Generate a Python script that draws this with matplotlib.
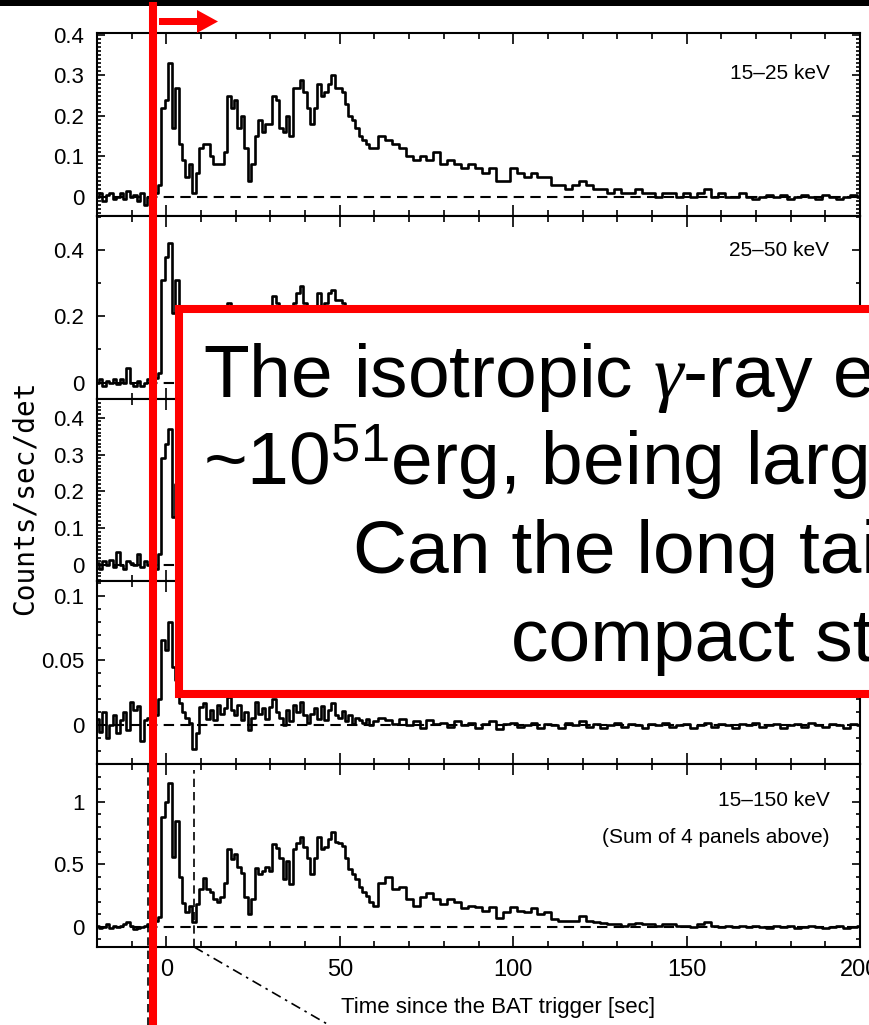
import numpy as np
import matplotlib
matplotlib.use("Agg")
import matplotlib.pyplot as plt
import matplotlib.transforms as mtransforms
from matplotlib.patches import Rectangle, Polygon
from matplotlib.lines import Line2D
from matplotlib.ticker import MultipleLocator, FuncFormatter

## Swift/BAT light curves in four energy bands plus their sum ##

# time bins: 1 s up to 60 s, then 2 s
time_early = list(range(-20, 60))
time_late = list(range(60, 201, 2))

band_15_25_early = [
    0.0, 0.01, -0.01, 0.005, 0.01, -0.005, 0.0, 0.01, -0.005, 0.015,
    0.0, 0.005, -0.01, 0.01, -0.02, 0.0, -0.005, 0.01,
    0.03, 0.22, 0.24, 0.33, 0.17, 0.27, 0.13, 0.09, 0.05, 0.08,
    0.01, 0.06, 0.12, 0.13, 0.13, 0.10, 0.08, 0.08, 0.08, 0.11,
    0.25, 0.22, 0.24, 0.17, 0.20, 0.12, 0.04, 0.08, 0.15, 0.19,
    0.16, 0.18, 0.18, 0.25, 0.24, 0.17, 0.16, 0.20, 0.15, 0.27,
    0.27, 0.29, 0.26, 0.22, 0.18, 0.22, 0.28, 0.25, 0.26, 0.28,
    0.30, 0.27, 0.27, 0.26, 0.23, 0.20, 0.19, 0.17, 0.15, 0.14,
    0.13, 0.12,
]
band_15_25_late = [
    0.12, 0.15, 0.14, 0.13, 0.12, 0.10, 0.09, 0.10, 0.09, 0.11,
    0.08, 0.09, 0.08, 0.07, 0.08, 0.07, 0.06, 0.07, 0.04, 0.04,
    0.07, 0.06, 0.05, 0.06, 0.05, 0.05, 0.03, 0.03, 0.02, 0.03,
    0.04, 0.03, 0.02, 0.02, 0.01, 0.02, 0.01, 0.01, 0.02, 0.01,
    0.01, 0.0, 0.01, 0.01, 0.0, 0.01, 0.0, 0.01, 0.02, 0.0,
    0.01, 0.0, 0.0, 0.01, 0.0, -0.005, 0.0, 0.005, 0.0, 0.005,
    -0.005, 0.0, 0.005, 0.0, -0.005, 0.005, 0.0, -0.005, 0.0, 0.005,
    0.0,
]

band_25_50_early = [
    0.0, 0.01, -0.01, 0.005, 0.0, 0.01, -0.005, 0.01, 0.0, 0.045,
    0.0, -0.01, 0.005, -0.01, 0.0, 0.01, -0.005, 0.015,
    0.03, 0.31, 0.38, 0.42, 0.21, 0.31, 0.14, 0.08, 0.05, 0.06,
    0.01, 0.06, 0.10, 0.14, 0.11, 0.10, 0.08, 0.07, 0.09, 0.13,
    0.24, 0.20, 0.23, 0.17, 0.15, 0.08, 0.03, 0.08, 0.18, 0.15,
    0.17, 0.18, 0.17, 0.26, 0.24, 0.20, 0.13, 0.19, 0.12, 0.24,
    0.27, 0.29, 0.24, 0.20, 0.15, 0.20, 0.27, 0.23, 0.24, 0.27,
    0.28, 0.25, 0.25, 0.24, 0.20, 0.17, 0.15, 0.13, 0.11, 0.10,
    0.09, 0.07,
]
band_25_50_late = [
    0.06, 0.12, 0.14, 0.10, 0.11, 0.07, 0.06, 0.08, 0.09, 0.07,
    0.06, 0.07, 0.07, 0.05, 0.05, 0.05, 0.04, 0.05, 0.02, 0.04,
    0.05, 0.04, 0.04, 0.05, 0.03, 0.04, 0.02, 0.01, 0.02, 0.01,
    0.03, 0.01, 0.01, 0.0, 0.01, 0.0, 0.0, 0.01, 0.01, 0.0,
    0.01, 0.0, -0.005, 0.005, 0.0, 0.005, -0.005, 0.0, 0.01, 0.0,
    0.0, 0.005, -0.005, 0.0, 0.005, 0.0, -0.005, 0.0, 0.005, 0.0,
    -0.005, 0.0, 0.005, 0.0, -0.005, 0.0, 0.005, 0.0, -0.005, 0.0,
    0.005,
]

band_50_100_early = [
    0.005, -0.01, 0.01, 0.0, 0.015, -0.005, 0.035, 0.0, -0.01, 0.01,
    0.005, 0.0, 0.03, -0.005, 0.01, 0.0, 0.01, -0.01,
    0.03, 0.29, 0.33, 0.37, 0.13, 0.22, 0.10, 0.05, 0.03, 0.03,
    0.0, 0.03, 0.06, 0.08, 0.06, 0.06, 0.04, 0.04, 0.04, 0.08,
    0.14, 0.10, 0.10, 0.09, 0.07, 0.04, 0.02, 0.05, 0.10, 0.08,
    0.09, 0.10, 0.09, 0.15, 0.13, 0.12, 0.08, 0.11, 0.06, 0.12,
    0.13, 0.14, 0.12, 0.10, 0.07, 0.10, 0.14, 0.11, 0.12, 0.13,
    0.15, 0.13, 0.12, 0.12, 0.10, 0.08, 0.07, 0.06, 0.05, 0.05,
    0.04, 0.04,
]
band_50_100_late = [
    0.03, 0.06, 0.08, 0.05, 0.06, 0.04, 0.02, 0.05, 0.05, 0.03,
    0.03, 0.04, 0.04, 0.02, 0.03, 0.03, 0.02, 0.03, 0.01, 0.02,
    0.03, 0.02, 0.02, 0.03, 0.01, 0.02, 0.01, 0.0, 0.01, 0.01,
    0.02, 0.0, 0.01, 0.0, 0.005, -0.005, 0.0, 0.005, 0.0, -0.005,
    0.005, 0.0, -0.005, 0.0, 0.005, 0.0, -0.005, 0.005, 0.0, 0.0,
    0.005, -0.005, 0.0, 0.005, 0.0, -0.005, 0.0, 0.005, 0.0, -0.005,
    0.0, 0.005, 0.0, -0.005, 0.005, 0.0, 0.0, -0.005, 0.005, 0.0,
    0.0,
]

band_100_150_early = [
    0.005, -0.005, 0.01, -0.01, 0.0, 0.008, -0.006, 0.004, 0.01, -0.004,
    0.018, 0.012, 0.015, -0.012, 0.004, 0.006, 0.0, 0.008,
    0.02, 0.066, 0.058, 0.08, 0.045, 0.035, 0.017, 0.01, 0.006, 0.002,
    -0.018, -0.006, 0.014, 0.017, 0.005, 0.012, 0.004, 0.016, 0.009, 0.013,
    0.022, 0.012, 0.008, 0.016, 0.004, 0.01, -0.004, 0.006, 0.018, 0.009,
    0.013, 0.005, 0.014, 0.02, 0.01, 0.006, 0.0, 0.012, 0.003, 0.016,
    0.01, 0.018, 0.008, 0.002, 0.009, 0.013, 0.005, 0.015, 0.004, 0.012,
    0.017, 0.008, 0.006, 0.011, 0.003, 0.008, 0.001, 0.006, 0.004, 0.002,
    0.005, 0.0,
]
band_100_150_late = [
    0.003, 0.006, 0.004, 0.001, 0.005, 0.0, 0.003, -0.002, 0.004, 0.001,
    0.002, -0.001, 0.003, 0.0, 0.002, -0.002, 0.001, 0.003, -0.003, 0.001,
    0.002, -0.001, 0.0, 0.002, -0.002, 0.001, 0.0, -0.002, 0.002, 0.0,
    0.003, -0.001, 0.001, -0.002, 0.0, 0.002, -0.001, 0.001, 0.0, -0.002,
    0.001, 0.0, 0.002, -0.001, 0.0, 0.001, -0.002, 0.0, 0.002, -0.001,
    0.001, 0.0, -0.002, 0.001, 0.0, 0.002, -0.001, 0.0, 0.001, -0.002,
    0.0, 0.001, -0.001, 0.002, 0.0, -0.001, 0.001, 0.0, -0.002, 0.001,
    0.0,
]

band_15_150_early = [
    0.01, -0.01, 0.0, 0.02, -0.01, 0.01, 0.0, 0.01, 0.02, 0.04,
    0.01, -0.02, -0.01, 0.0, 0.01, 0.02, 0.03, 0.05,
    0.08, 0.88, 1.0, 1.15, 0.56, 0.85, 0.40, 0.19, 0.12, 0.17,
    0.04, 0.18, 0.30, 0.39, 0.30, 0.28, 0.22, 0.20, 0.24, 0.35,
    0.62, 0.54, 0.58, 0.48, 0.43, 0.24, 0.10, 0.22, 0.47, 0.42,
    0.45, 0.48, 0.45, 0.66, 0.63, 0.55, 0.38, 0.53, 0.34, 0.62,
    0.67, 0.72, 0.64, 0.55, 0.42, 0.55, 0.72, 0.62, 0.64, 0.70,
    0.76, 0.68, 0.67, 0.65, 0.55, 0.46, 0.42, 0.38, 0.32, 0.28,
    0.25, 0.20,
]
band_15_150_late = [
    0.17, 0.35, 0.40, 0.30, 0.32, 0.22, 0.17, 0.24, 0.27, 0.22,
    0.18, 0.22, 0.20, 0.15, 0.17, 0.16, 0.13, 0.16, 0.07, 0.12,
    0.16, 0.13, 0.12, 0.15, 0.10, 0.12, 0.06, 0.05, 0.05, 0.05,
    0.09, 0.05, 0.04, 0.03, 0.02, 0.02, 0.01, 0.02, 0.03, 0.02,
    0.02, 0.01, 0.02, 0.02, 0.01, 0.01, 0.0, 0.02, 0.04, 0.01,
    0.0, 0.01, 0.0, 0.01, 0.0, 0.01, 0.0, -0.01, 0.01, 0.0,
    0.01, -0.01, 0.0, 0.01, 0.0, -0.01, 0.0, 0.01, -0.01, 0.0,
    0.01,
]

band_labels = ["15–25 keV", "25–50 keV", "50–100 keV", "100–150 keV", "15–150 keV"]
y_limits = [(-0.047, 0.405), (-0.048, 0.503), (-0.044, 0.452), (-0.03, 0.111), (-0.16, 1.30)]
y_major = [0.1, 0.2, 0.1, 0.05, 0.5]
y_minor = [0.01, 0.1, 0.01, 0.01, 0.1]

# selected interval marked in the summed panel
interval_start = -5.2
interval_end = 8.0
zoom_target = 49.0

time = np.array(time_early + time_late)
bands = [
    band_15_25_early + band_15_25_late,
    band_25_50_early + band_25_50_late,
    band_50_100_early + band_50_100_late,
    band_100_150_early + band_100_150_late,
    band_15_150_early + band_15_150_late,
]

plt.rcParams["font.family"] = ["Liberation Sans", "DejaVu Sans"]
plt.rcParams["mathtext.fontset"] = "custom"
plt.rcParams["mathtext.rm"] = "Liberation Sans"
plt.rcParams["mathtext.it"] = "Liberation Serif:italic"

W, H = 869, 1025
fig = plt.figure(figsize=(W / 100, H / 100), dpi=100)
gs = fig.add_gridspec(5, 1, left=97 / W, right=860 / W, top=1 - 33 / H, bottom=1 - 947 / H, hspace=0)
axes = [fig.add_subplot(gs[i]) for i in range(5)]

fmt = FuncFormatter(lambda v, p: f"{v:g}")
for i, ax in enumerate(axes):
    ax.plot(time, bands[i], color="black", lw=1.9, drawstyle="steps-mid")
    ax.axhline(0, color="black", lw=1.5, dashes=(5, 3))
    ax.set_xlim(-20, 200)
    ax.set_ylim(*y_limits[i])
    ax.xaxis.set_major_locator(MultipleLocator(50))
    ax.xaxis.set_minor_locator(MultipleLocator(10))
    ax.yaxis.set_major_locator(MultipleLocator(y_major[i]))
    ax.yaxis.set_minor_locator(MultipleLocator(y_minor[i]))
    ax.yaxis.set_major_formatter(fmt)
    ax.tick_params(which="both", direction="in", top=True, right=True, width=1.2)
    ax.tick_params(axis="x", which="major", length=8)
    ax.tick_params(axis="x", which="minor", length=4)
    ax.tick_params(axis="y", which="major", length=6, labelsize=16, pad=9)
    ax.tick_params(axis="y", which="minor", length=3)
    for s in ax.spines.values():
        s.set_linewidth(1.5)
    if i < 4:
        ax.tick_params(axis="x", labelbottom=False)

axes[0].text(0.96, 0.78, band_labels[0], transform=axes[0].transAxes, ha="right", va="center", fontsize=15)
axes[1].text(0.96, 0.81, band_labels[1], transform=axes[1].transAxes, ha="right", va="center", fontsize=15)
axes[4].text(0.96, 0.80, band_labels[4], transform=axes[4].transAxes, ha="right", va="center", fontsize=15)
axes[4].text(0.96, 0.60, "(Sum of 4 panels above)", transform=axes[4].transAxes,
             ha="right", va="center", fontsize=15)

bottom = axes[4]
bottom.tick_params(axis="x", labelsize=17, pad=9)
bottom.set_xlabel("Time since the BAT trigger [sec]", fontsize=16)
bottom.xaxis.set_label_coords(0.525, -0.275)

# interval markers and the connector lines leading below the plot
bottom.axvline(interval_end, ymin=0, ymax=0.97, color="black", lw=1.2, dashes=(5, 3))
trans = mtransforms.blended_transform_factory(bottom.transData, bottom.transAxes)
bottom.plot([interval_start, interval_start], [1.0, -0.45], transform=trans, clip_on=False,
            color="black", lw=1.2, dashes=(5, 3))
bottom.plot([interval_end, zoom_target], [0.0, -0.45], transform=trans, clip_on=False,
            color="black", lw=1.2, dashes=(6, 3, 1.5, 3))

fig.text(25 / W, 1 - 498 / H, "Counts/sec/det", rotation=90, ha="center", va="center",
         fontsize=20, family="DejaVu Sans Mono")

# slide overlay: dark band, red marker line, arrow and text box
fig.add_artist(Rectangle((0, 1 - 6 / H), 1, 6 / H, transform=fig.transFigure,
                         facecolor="black", edgecolor="none"))
fig.add_artist(Line2D([153 / W, 153 / W], [0, 1 - 6 / H], transform=fig.transFigure,
                      color="#ff0000", lw=5.8))
arrow_px = [(159, 18), (197, 18), (197, 10), (218, 21.5), (197, 33), (197, 25), (159, 25)]
fig.add_artist(Polygon([(x / W, 1 - y / H) for x, y in arrow_px], closed=True,
                       transform=fig.transFigure, facecolor="#ff0000", edgecolor="none"))
fig.add_artist(Rectangle((179 / W, 1 - 694 / H), 1.0, (694 - 308.5) / H, transform=fig.transFigure,
                         facecolor="white", edgecolor="#ff0000", lw=5.8))

box_lines = [
    (203, 397, r"The isotropic $\gamma$-ray energy"),
    (203, 485, r"~10$^{51}$erg, being larger"),
    (353, 573, "Can the long tail"),
    (511, 661, "compact star"),
]
for x, y, s in box_lines:
    fig.text(x / W, 1 - y / H, s, fontsize=54, family="Liberation Sans", va="baseline", ha="left")

fig.savefig("out.png", dpi=100)
